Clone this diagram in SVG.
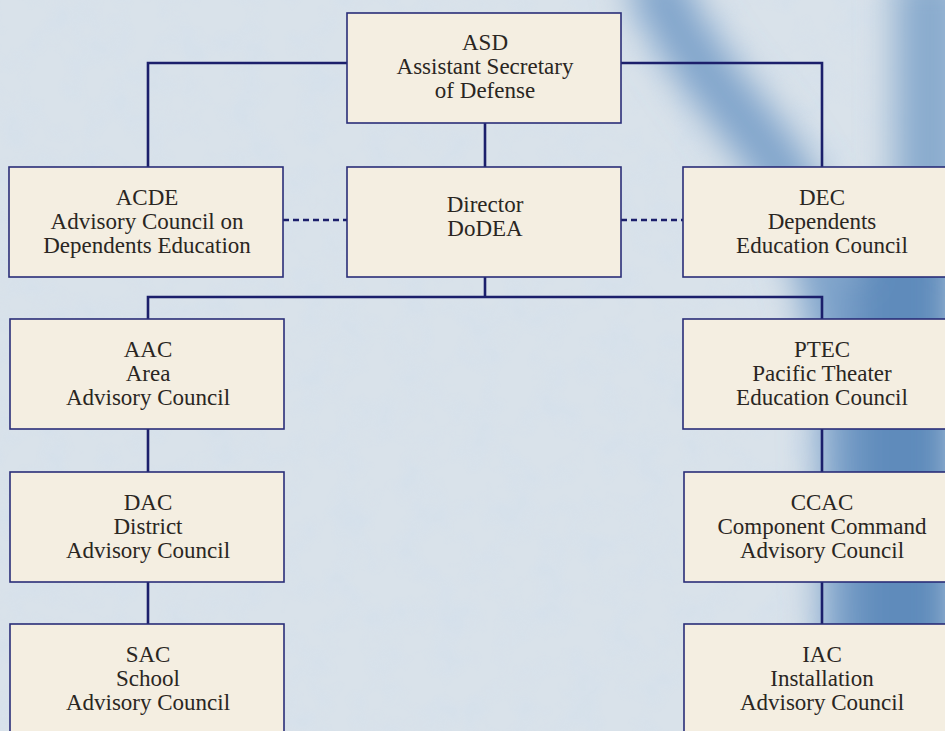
<svg xmlns="http://www.w3.org/2000/svg" width="945" height="731" viewBox="0 0 945 731">
  <defs>
    <filter id="blur" x="-50%" y="-50%" width="200%" height="200%">
      <feGaussianBlur stdDeviation="18"/>
    </filter>
    <filter id="noise" x="0" y="0" width="100%" height="100%">
      <feTurbulence type="fractalNoise" baseFrequency="0.03" numOctaves="3" seed="4"/>
      <feColorMatrix type="matrix" values="0 0 0 0 0.60  0 0 0 0 0.72  0 0 0 0 0.86  0 0 0 1.1 -0.45"/>
    </filter>
    <style>
      .box { fill: #f4eee1; stroke: #2a2d78; stroke-width: 1.6; }
      .conn { fill: none; stroke: #1b1f6b; stroke-width: 2.6; }
      .dash { fill: none; stroke: #1b1f6b; stroke-width: 2.6; stroke-dasharray: 6 4; }
      text { font-family: "Liberation Serif", "DejaVu Serif", serif; font-size: 23px; fill: #2a2622; text-anchor: middle; }
    </style>
  </defs>

  <!-- background -->
  <rect x="0" y="0" width="945" height="731" fill="#d9e2ea"/>
  <rect x="0" y="0" width="945" height="731" filter="url(#noise)" opacity="0.5"/>
  <g filter="url(#blur)">
    <path d="M650,-30 C680,50 730,100 775,160 C815,220 835,300 845,400 L850,770" fill="none" stroke="#7ea3ca" stroke-width="55"/>
    <path d="M930,-30 L930,260" fill="none" stroke="#88aacd" stroke-width="70"/>
    <path d="M905,230 L905,770" fill="none" stroke="#5f8bbb" stroke-width="100"/>
  </g>

  <!-- connectors -->
  <g id="connectors">
    <path class="conn" d="M347,63 H148 V167"/>
    <path class="conn" d="M621,63 H822 V167"/>
    <path class="conn" d="M485,123 V167"/>
    <path class="conn" d="M485,277 V297"/>
    <path class="conn" d="M148,319 V297 H822 V319"/>
    <path class="conn" d="M148,429 V472"/>
    <path class="conn" d="M148,582 V624"/>
    <path class="conn" d="M822,429 V472"/>
    <path class="conn" d="M822,582 V624"/>
    <path class="dash" d="M283,220 H347"/>
    <path class="dash" d="M621,220 H683"/>
  </g>

  <g id="asd">
    <rect class="box" x="347" y="13" width="274" height="110"/>
    <text x="485" y="50">ASD</text>
    <text x="485" y="74">Assistant Secretary</text>
    <text x="485" y="98">of  Defense</text>
  </g>

  <g id="acde">
    <rect class="box" x="9" y="167" width="274" height="110"/>
    <text x="147" y="205">ACDE</text>
    <text x="147" y="229">Advisory Council on</text>
    <text x="147" y="253">Dependents Education</text>
  </g>

  <g id="director">
    <rect class="box" x="347" y="167" width="274" height="110"/>
    <text x="485" y="212">Director</text>
    <text x="485" y="236">DoDEA</text>
  </g>

  <g id="dec">
    <rect class="box" x="683" y="167" width="276" height="110"/>
    <text x="822" y="205">DEC</text>
    <text x="822" y="229">Dependents</text>
    <text x="822" y="253">Education Council</text>
  </g>

  <g id="aac">
    <rect class="box" x="10" y="319" width="274" height="110"/>
    <text x="148" y="357">AAC</text>
    <text x="148" y="381">Area</text>
    <text x="148" y="405">Advisory Council</text>
  </g>

  <g id="ptec">
    <rect class="box" x="683" y="319" width="276" height="110"/>
    <text x="822" y="357">PTEC</text>
    <text x="822" y="381">Pacific Theater</text>
    <text x="822" y="405">Education Council</text>
  </g>

  <g id="dac">
    <rect class="box" x="10" y="472" width="274" height="110"/>
    <text x="148" y="510">DAC</text>
    <text x="148" y="534">District</text>
    <text x="148" y="558">Advisory Council</text>
  </g>

  <g id="ccac">
    <rect class="box" x="684" y="472" width="276" height="110"/>
    <text x="822" y="510">CCAC</text>
    <text x="822" y="534">Component Command</text>
    <text x="822" y="558">Advisory Council</text>
  </g>

  <g id="sac">
    <rect class="box" x="10" y="624" width="274" height="120"/>
    <text x="148" y="662">SAC</text>
    <text x="148" y="686">School</text>
    <text x="148" y="710">Advisory Council</text>
  </g>

  <g id="iac">
    <rect class="box" x="684" y="624" width="276" height="120"/>
    <text x="822" y="662">IAC</text>
    <text x="822" y="686">Installation</text>
    <text x="822" y="710">Advisory Council</text>
  </g>
</svg>
